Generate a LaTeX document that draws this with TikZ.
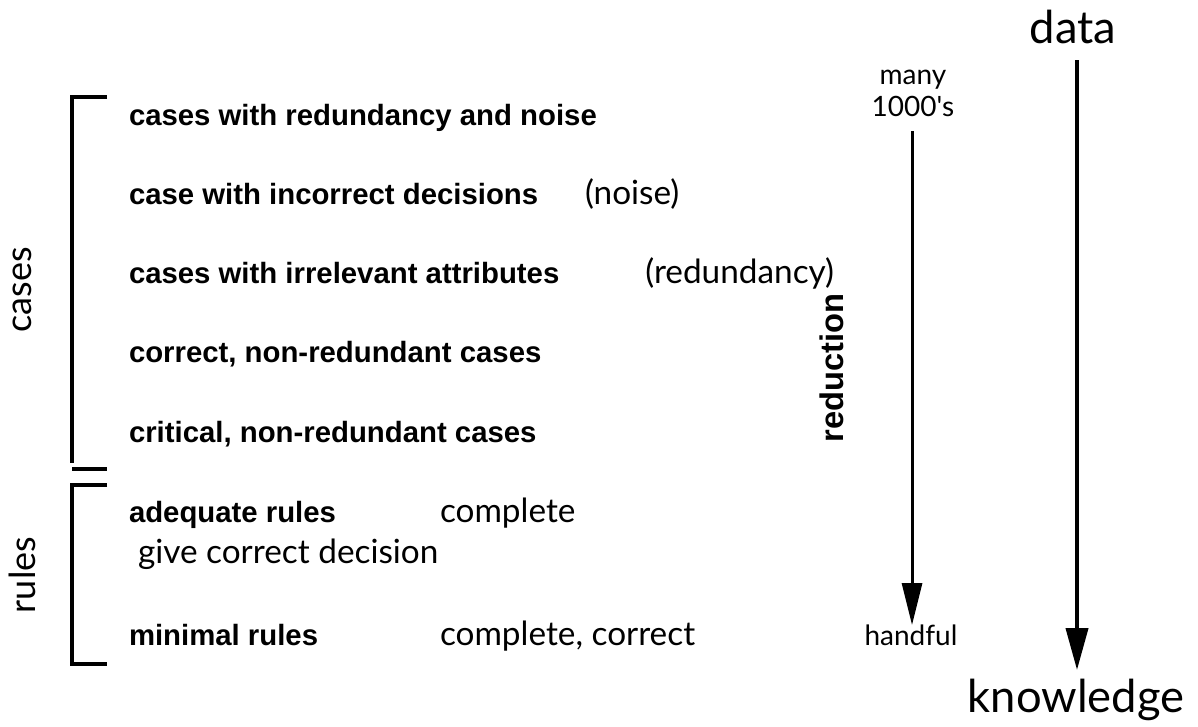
\documentclass[tikz,border=0pt]{standalone}
\usepackage{fontspec}
\setmainfont{Lato}
\newfontfamily\boldface{Liberation Sans}[UprightFont=* Bold]
\newfontfamily\plainquote{Lato}[Ligatures=TeXOff]
\usetikzlibrary{arrows.meta}
\begin{document}
\begin{tikzpicture}[x=0.75pt,y=-0.75pt,
  every node/.style={inner sep=0pt,outer sep=0pt},
  item/.style={anchor=base west,font=\boldface\fontsize{22}{26}\selectfont},
  note/.style={anchor=base west,font=\fontsize{25}{30}\selectfont},
  small/.style={anchor=base,font=\plainquote\fontsize{21}{25}\selectfont},
  big/.style={anchor=base,font=\fontsize{34}{40}\selectfont},
  side/.style={font=\fontsize{27}{32}\selectfont,rotate=90},
  bracket/.style={line width=3pt,line join=miter},
  flow/.style={line width=3pt,-{Triangle[length=31.5pt,width=16.5pt]}},
  shrink/.style={line width=2.25pt,-{Triangle[length=31.5pt,width=15pt]}}]
\useasboundingbox (0,0) rectangle (1198,726);

% case and rule rows
\node[item] (c1) at (129,125) {cases with redundancy and noise};
\node[item] (c2) at (129,204) {case with incorrect decisions};
\node[note] (n2) at (585,204) {(noise)};
\node[item] (c3) at (129,283) {cases with irrelevant attributes};
\node[note,anchor=base east] (n3) at (834,283) {(redundancy)};
\node[item] (c4) at (129,362) {correct, non-redundant cases};
\node[item] (c5) at (129,442) {critical, non-redundant cases};
\node[item] (r1) at (129,522) {adequate rules};
\node[note] (r1a) at (440,522) {complete};
\node[note] (r1b) at (138,563) {give correct decision};
\node[item] (r2) at (129,645) {minimal rules};
\node[note] (r2a) at (440,645) {complete, correct};

% group labels and brackets
\node[side] (cases) at (22,290) {cases};
\node[side] (rules) at (22,575) {rules};
\draw[bracket] (107,97) -- (72,97) -- (72,463);
\draw[bracket] (72,469) -- (107,469);
\draw[bracket] (107,485) -- (72,485) -- (72,664) -- (107,664);

% reduction scale
\node[small] (many) at (913,84) {many};
\node[small] (thousands) at (913,116) {1000's};
\node[small] (handful) at (911,645) {handful};
\node[font=\boldface\fontsize{24.5}{29}\selectfont,rotate=90] (reduction) at (832,368) {reduction};
\coordinate (sTop) at (912,131);
\coordinate (sEnd) at (912,625);
\draw[shrink] (sTop) -- (sEnd);

% data to knowledge
\node[big] (data) at (1073,43) {data};
\node[big] (knowledge) at (1076,712) {knowledge};
\coordinate (dTop) at (1077,60);
\coordinate (dEnd) at (1077,670);
\draw[flow] (dTop) -- (dEnd);
\end{tikzpicture}
\end{document}
